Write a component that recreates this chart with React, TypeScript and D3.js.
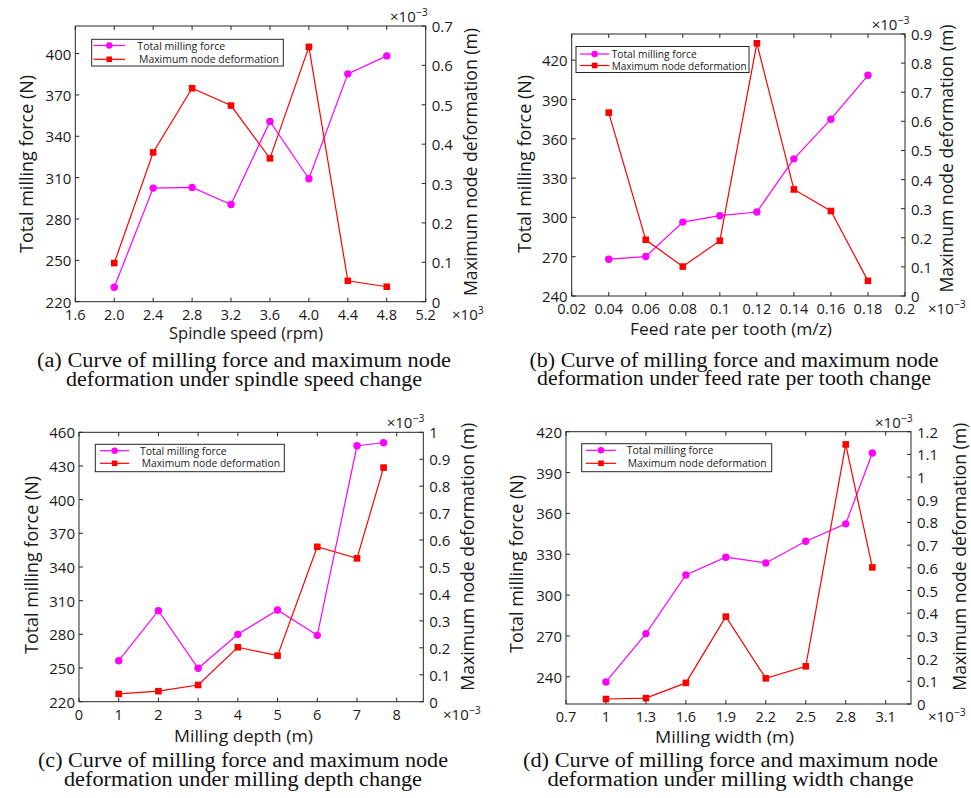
import React from "react";
import * as d3 from "d3";

// ---------- (a) spindle speed ----------
const A_X = [2.0, 2.4, 2.8, 3.2, 3.6, 4.0, 4.4, 4.8];
const A_FORCE = [230.5, 302.4, 302.9, 290.5, 350.8, 309.2, 385.3, 398.3];
const A_DEFORM = [0.098, 0.379, 0.542, 0.498, 0.364, 0.647, 0.053, 0.038];
const A_XTICKS = [1.6, 2.0, 2.4, 2.8, 3.2, 3.6, 4.0, 4.4, 4.8, 5.2];
const A_XLABELS = ["1.6", "2.0", "2.4", "2.8", "3.2", "3.6", "4.0", "4.4", "4.8", "5.2"];
const A_FTICKS = [220, 250, 280, 310, 340, 370, 400];
const A_DTICKS = [0, 0.1, 0.2, 0.3, 0.4, 0.5, 0.6, 0.7];
const A_DLABELS = ["0", "0.1", "0.2", "0.3", "0.4", "0.5", "0.6", "0.7"];

// ---------- (b) feed rate per tooth ----------
const B_X = [0.04, 0.06, 0.08, 0.1, 0.12, 0.14, 0.16, 0.18];
const B_FORCE = [268.1, 270.1, 296.4, 301.3, 304.1, 344.7, 375.0, 408.5];
const B_DEFORM = [0.63, 0.193, 0.101, 0.19, 0.868, 0.366, 0.292, 0.052];
const B_XTICKS = [0.02, 0.04, 0.06, 0.08, 0.1, 0.12, 0.14, 0.16, 0.18, 0.2];
const B_XLABELS = ["0.02", "0.04", "0.06", "0.08", "0.1", "0.12", "0.14", "0.16", "0.18", "0.2"];
const B_FTICKS = [240, 270, 300, 330, 360, 390, 420];
const B_DTICKS = [0, 0.1, 0.2, 0.3, 0.4, 0.5, 0.6, 0.7, 0.8, 0.9];
const B_DLABELS = ["0", "0.1", "0.2", "0.3", "0.4", "0.5", "0.6", "0.7", "0.8", "0.9"];

// ---------- (c) milling depth ----------
const C_X = [1, 2, 3, 4, 5, 6, 7, 7.67];
const C_FORCE = [256.5, 301.1, 249.8, 280.0, 301.7, 279.1, 448.0, 450.7];
const C_DEFORM = [0.029, 0.039, 0.062, 0.202, 0.171, 0.575, 0.532, 0.869];
const C_XTICKS = [0, 1, 2, 3, 4, 5, 6, 7, 8];
const C_XLABELS = ["0", "1", "2", "3", "4", "5", "6", "7", "8"];
const C_FTICKS = [220, 250, 280, 310, 340, 370, 400, 430, 460];
const C_DTICKS = [0, 0.1, 0.2, 0.3, 0.4, 0.5, 0.6, 0.7, 0.8, 0.9, 1];
const C_DLABELS = ["0", "0.1", "0.2", "0.3", "0.4", "0.5", "0.6", "0.7", "0.8", "0.9", "1"];

// ---------- (d) milling width ----------
const D_X = [1.0, 1.3, 1.6, 1.9, 2.2, 2.5, 2.8, 3.0];
const D_FORCE = [236.2, 271.7, 314.8, 327.8, 323.6, 339.5, 352.3, 404.4];
const D_DEFORM = [0.022, 0.026, 0.093, 0.385, 0.113, 0.166, 1.144, 0.602];
const D_XTICKS = [0.7, 1.0, 1.3, 1.6, 1.9, 2.2, 2.5, 2.8, 3.1];
const D_XLABELS = ["0.7", "1", "1.3", "1.6", "1.9", "2.2", "2.5", "2.8", "3.1"];
const D_FTICKS = [240, 270, 300, 330, 360, 390, 420];
const D_DTICKS = [0, 0.1, 0.2, 0.3, 0.4, 0.5, 0.6, 0.7, 0.8, 0.9, 1, 1.1, 1.2];
const D_DLABELS = ["0", "0.1", "0.2", "0.3", "0.4", "0.5", "0.6", "0.7", "0.8", "0.9", "1", "1.1", "1.2"];

const LEFT_TITLE = "Total milling force (N)";
const RIGHT_TITLE = "Maximum node deformation (m)";
const SERIES_NAMES = ["Total milling force", "Maximum node deformation"];

const MAGENTA = "#ff00ff";
const RED = "#ff0000";
const AXIS = "#262626";
const SANS = "'Open Sans', 'Noto Sans', sans-serif";
const SERIF = "'Liberation Serif', 'DejaVu Serif', serif";

type Cfg = {
  xs: number[]; force: number[]; deform: number[];
  xTicks: number[]; xLabels: string[];
  fTicks: number[]; dTicks: number[]; dLabels: string[];
  xDomain: [number, number]; fDomain: [number, number]; dDomain: [number, number];
  frame: { l: number; r: number; t: number; b: number };
  xTitle: string; xTitleX: number; xTitleW: number; xTitleY: number;
  leftTitleX: number; leftTitleY: number;
  rightTitleX: number; rightTitleY: number;
  xExp: string; xExpX: number;
  topExpX: number; topExpY: number;
  legend: { l: number; r: number; t: number; b: number; y1: number; y2: number; lx1: number; lx2: number; tx1: number; tx2: number; w1: number; w2: number };
  caption: [string, string]; capX: number; capW: [number, number]; capY: [number, number];
};

const PANELS: Cfg[] = [
  {
    xs: A_X, force: A_FORCE, deform: A_DEFORM, xTicks: A_XTICKS, xLabels: A_XLABELS,
    fTicks: A_FTICKS, dTicks: A_DTICKS, dLabels: A_DLABELS,
    xDomain: [1.6, 5.2], fDomain: [220, 420], dDomain: [0, 0.7],
    frame: { l: 75.3, r: 425.7, t: 26, b: 301.7 },
    xTitle: "Spindle speed (rpm)", xTitleX: 246, xTitleW: 154, xTitleY: 339,
    leftTitleX: 26, leftTitleY: 164, rightTitleX: 470, rightTitleY: 162,
    xExp: "3", xExpX: 452, topExpX: 390, topExpY: 22,
    legend: { l: 91.7, r: 283.3, t: 39.3, b: 66, y1: 45.5, y2: 59.3, lx1: 93.5, lx2: 125, tx1: 137.3, tx2: 139, w1: 88, w2: 140 },
    caption: ["(a) Curve of milling force and maximum node", "deformation under spindle speed change"],
    capX: 244, capW: [414, 356], capY: [366.5, 385.5],
  },
  {
    xs: B_X, force: B_FORCE, deform: B_DEFORM, xTicks: B_XTICKS, xLabels: B_XLABELS,
    fTicks: B_FTICKS, dTicks: B_DTICKS, dLabels: B_DLABELS,
    xDomain: [0.02, 0.2], fDomain: [240, 440], dDomain: [0, 0.9],
    frame: { l: 571.7, r: 905, t: 34, b: 296 },
    xTitle: "Feed rate per tooth (m/z)", xTitleX: 731, xTitleW: 202, xTitleY: 334.5,
    leftTitleX: 524, leftTitleY: 164, rightTitleX: 946, rightTitleY: 158.5,
    xExp: "−3", xExpX: 928, topExpX: 871.7, topExpY: 30,
    legend: { l: 576, r: 749, t: 46.5, b: 72.5, y1: 54, y2: 65.5, lx1: 580, lx2: 609.3, tx1: 611.7, tx2: 611.7, w1: 85, w2: 135 },
    caption: ["(b) Curve of milling force and maximum node", "deformation under feed rate per tooth change"],
    capX: 734, capW: [409, 394], capY: [366.5, 385],
  },
  {
    xs: C_X, force: C_FORCE, deform: C_DEFORM, xTicks: C_XTICKS, xLabels: C_XLABELS,
    fTicks: C_FTICKS, dTicks: C_DTICKS, dLabels: C_DLABELS,
    xDomain: [0, 8.67], fDomain: [220, 460], dDomain: [0, 1],
    frame: { l: 79, r: 423.3, t: 432.3, b: 701.7 },
    xTitle: "Milling depth (m)", xTitleX: 243.5, xTitleW: 139, xTitleY: 742,
    leftTitleX: 31, leftTitleY: 565, rightTitleX: 467, rightTitleY: 556.7,
    xExp: "−3", xExpX: 443, topExpX: 386.7, topExpY: 428,
    legend: { l: 95.3, r: 284.3, t: 444.3, b: 471.7, y1: 450.7, y2: 463.3, lx1: 100, lx2: 129.3, tx1: 140, tx2: 141.7, w1: 86.7, w2: 138.3 },
    caption: ["(c) Curve of milling force and maximum node", "deformation under milling depth change"],
    capX: 243, capW: [410, 358], capY: [767, 785.5],
  },
  {
    xs: D_X, force: D_FORCE, deform: D_DEFORM, xTicks: D_XTICKS, xLabels: D_XLABELS,
    fTicks: D_FTICKS, dTicks: D_DTICKS, dLabels: D_DLABELS,
    xDomain: [0.7, 3.29], fDomain: [220, 420], dDomain: [0, 1.2],
    frame: { l: 566, r: 911, t: 431.7, b: 704 },
    xTitle: "Milling width (m)", xTitleX: 724.5, xTitleW: 139, xTitleY: 743,
    leftTitleX: 516, leftTitleY: 564, rightTitleX: 959, rightTitleY: 556.7,
    xExp: "−3", xExpX: 928, topExpX: 875, topExpY: 428,
    legend: { l: 581.7, r: 771.7, t: 443.7, b: 471.7, y1: 450.3, y2: 463.3, lx1: 586, lx2: 616, tx1: 626.7, tx2: 627.7, w1: 86.7, w2: 139 },
    caption: ["(d) Curve of milling force and maximum node", "deformation under milling width change"],
    capX: 730.5, capW: [415, 366], capY: [767, 785.5],
  },
];

const TICK = 4;

function Panel({ c }: { c: Cfg }) {
  const { frame: f } = c;
  const x = d3.scaleLinear().domain(c.xDomain).range([f.l, f.r]);
  const yL = d3.scaleLinear().domain(c.fDomain).range([f.b, f.t]);
  const yR = d3.scaleLinear().domain(c.dDomain).range([f.b, f.t]);
  const idx = c.xs.map((_, i) => i);
  const lineF = d3.line<number>().x((i) => x(c.xs[i])).y((i) => yL(c.force[i]));
  const lineD = d3.line<number>().x((i) => x(c.xs[i])).y((i) => yR(c.deform[i]));
  const lg = c.legend;
  const lmx = (lg.lx1 + lg.lx2) / 2;
  const tickY = f.b + 18;
  return (
    <g>
      {/* data */}
      <path d={lineF(idx) || ""} fill="none" stroke={MAGENTA} strokeWidth={1.2} />
      <path d={lineD(idx) || ""} fill="none" stroke={RED} strokeWidth={1.2} />
      {idx.map((i) => (
        <circle key={"f" + i} cx={x(c.xs[i])} cy={yL(c.force[i])} r={3.7} fill={MAGENTA} />
      ))}
      {idx.map((i) => (
        <rect key={"d" + i} x={x(c.xs[i]) - 3.3} y={yR(c.deform[i]) - 3.3} width={6.6} height={6.6} fill={RED} />
      ))}
      {/* frame */}
      <rect x={f.l} y={f.t} width={f.r - f.l} height={f.b - f.t} fill="none" stroke={AXIS} strokeWidth={1} />
      {/* x ticks */}
      {c.xTicks.map((t, i) => (
        <g key={"xt" + i}>
          <line x1={x(t)} x2={x(t)} y1={f.b} y2={f.b - TICK} stroke={AXIS} />
          <line x1={x(t)} x2={x(t)} y1={f.t} y2={f.t + TICK} stroke={AXIS} />
          <text x={x(t)} y={tickY} textAnchor="middle" fontSize={14.5} fill="#1a1a1a" fontFamily={SANS}>
            {c.xLabels[i]}
          </text>
        </g>
      ))}
      {/* left ticks */}
      {c.fTicks.map((t, i) => (
        <g key={"ft" + i}>
          <line x1={f.l} x2={f.l + TICK} y1={yL(t)} y2={yL(t)} stroke={AXIS} />
          <text x={f.l - 4} y={yL(t)} textAnchor="end" dominantBaseline="central" fontSize={15} fill="#1a1a1a" fontFamily={SANS}>
            {t}
          </text>
        </g>
      ))}
      {/* right ticks */}
      {c.dTicks.map((t, i) => (
        <g key={"dt" + i}>
          <line x1={f.r} x2={f.r - TICK} y1={yR(t)} y2={yR(t)} stroke={AXIS} />
          <text x={f.r + 6} y={yR(t)} textAnchor="start" dominantBaseline="central" fontSize={15} fill="#1a1a1a" fontFamily={SANS}>
            {c.dLabels[i]}
          </text>
        </g>
      ))}
      {/* exponents */}
      <text x={c.topExpX} y={c.topExpY} fontSize={15} fill="#1a1a1a" fontFamily={SANS}>
        ×10<tspan fontSize={10.5} dy={-6}>−3</tspan>
      </text>
      <text x={c.xExpX} y={tickY} fontSize={15} fill="#1a1a1a" fontFamily={SANS}>
        ×10<tspan fontSize={10.5} dy={-6}>{c.xExp}</tspan>
      </text>
      {/* axis titles */}
      <text x={c.xTitleX} y={c.xTitleY} textAnchor="middle" fontSize={17} fill="#1a1a1a" fontFamily={SANS}
        textLength={c.xTitleW} lengthAdjust="spacingAndGlyphs">
        {c.xTitle}
      </text>
      <text transform={`translate(${c.leftTitleX},${c.leftTitleY}) rotate(-90)`} textAnchor="middle" dominantBaseline="central"
        fontSize={17.5} fill="#1a1a1a" fontFamily={SANS} textLength={178} lengthAdjust="spacingAndGlyphs">
        {LEFT_TITLE}
      </text>
      <text transform={`translate(${c.rightTitleX},${c.rightTitleY}) rotate(-90)`} textAnchor="middle" dominantBaseline="central"
        fontSize={17.5} fill="#1a1a1a" fontFamily={SANS} textLength={268} lengthAdjust="spacingAndGlyphs">
        {RIGHT_TITLE}
      </text>
      {/* legend */}
      <rect x={lg.l} y={lg.t} width={lg.r - lg.l} height={lg.b - lg.t} fill="#fff" stroke={AXIS} strokeWidth={1} />
      <line x1={lg.lx1} x2={lg.lx2} y1={lg.y1} y2={lg.y1} stroke={MAGENTA} strokeWidth={1.2} />
      <circle cx={lmx} cy={lg.y1} r={3.2} fill={MAGENTA} />
      <line x1={lg.lx1} x2={lg.lx2} y1={lg.y2} y2={lg.y2} stroke={RED} strokeWidth={1.2} />
      <rect x={lmx - 2.8} y={lg.y2 - 2.8} width={5.6} height={5.6} fill={RED} />
      <text x={lg.tx1} y={lg.y1} dominantBaseline="central" fontSize={10.5} fill="#1a1a1a" fontFamily={SANS}
        textLength={lg.w1} lengthAdjust="spacingAndGlyphs">
        {SERIES_NAMES[0]}
      </text>
      <text x={lg.tx2} y={lg.y2} dominantBaseline="central" fontSize={10.5} fill="#1a1a1a" fontFamily={SANS}
        textLength={lg.w2} lengthAdjust="spacingAndGlyphs">
        {SERIES_NAMES[1]}
      </text>
      {/* caption */}
      {c.caption.map((s, i) => (
        <text key={"cap" + i} x={c.capX} y={c.capY[i]} textAnchor="middle" fontSize={20} fill="#111" fontFamily={SERIF}
          textLength={c.capW[i]} lengthAdjust="spacingAndGlyphs">
          {s}
        </text>
      ))}
    </g>
  );
}

export default function App() {
  return (
    <svg width={971} height={798} viewBox="0 0 971 798"
      style={{ position: "absolute", left: 0, top: 0, background: "#fff", display: "block" }}>
      <rect x={0} y={0} width={971} height={798} fill="#fff" />
      {PANELS.map((c, i) => (
        <Panel key={i} c={c} />
      ))}
    </svg>
  );
}
